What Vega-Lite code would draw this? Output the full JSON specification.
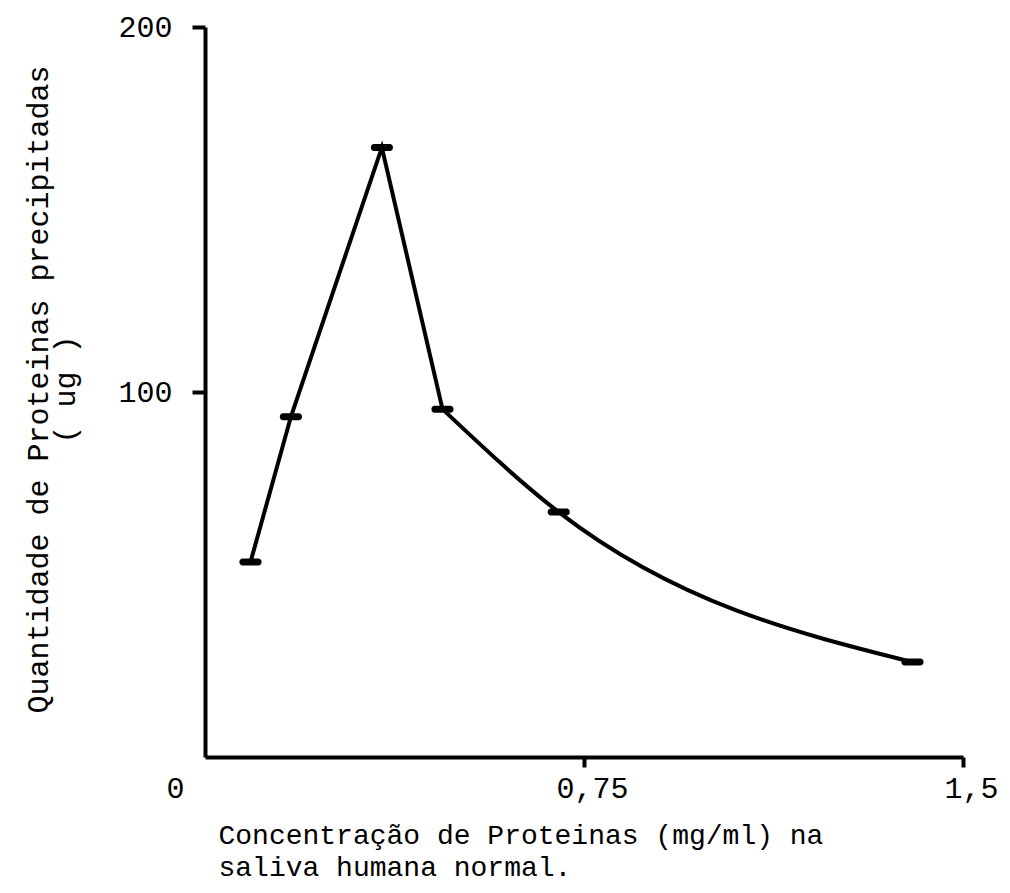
{
  "$schema": "https://vega.github.io/schema/vega-lite/v6.json",
  "width": 758,
  "height": 730,
  "autosize": {"type": "none"},
  "padding": {"left": 205, "top": 27, "right": 47, "bottom": 136},
  "background": "white",
  "data": {
    "values": [
      {"conc": 0.09, "prot": 53.4},
      {"conc": 0.17, "prot": 93.2},
      {"conc": 0.35, "prot": 167.0},
      {"conc": 0.47, "prot": 95.3},
      {"conc": 0.70, "prot": 67.1},
      {"conc": 1.40, "prot": 26.0}
    ]
  },
  "encoding": {
    "x": {
      "field": "conc",
      "type": "quantitative",
      "scale": {"domain": [0, 1.5], "nice": false, "zero": true},
      "axis": {
        "values": [0, 0.75, 1.5],
        "labelExpr": "datum.value === 0 ? '0' : replace(format(datum.value, '.2~f'), '.', ',')",
        "tickSize": 10,
        "tickOpacity": {"condition": {"test": "datum.value === 0", "value": 0}, "value": 1},
        "labelOffset": {"condition": {"test": "datum.value === 0", "value": -30}, "value": 8},
        "labelPadding": 6,
        "labelFlush": false,
        "labelOverlap": false,
        "labelBound": false,
        "title": ["Concentração de Proteinas (mg/ml) na", "saliva humana normal."],
        "titleX": 13,
        "titleY": 86,
        "titleAlign": "left",
        "titleAnchor": "start",
        "titleBaseline": "alphabetic",
        "titleFontSize": 28,
        "titleLineHeight": 32
      }
    },
    "y": {
      "field": "prot",
      "type": "quantitative",
      "scale": {"domain": [0, 200], "nice": false, "zero": true},
      "axis": {
        "values": [100, 200],
        "format": "d",
        "tickSize": 13,
        "labelPadding": 20,
        "labelOverlap": false,
        "labelFlush": false,
        "title": ["Quantidade de Proteinas precipitadas", "( ug )"],
        "titleX": -158,
        "titleY": 362,
        "titleAngle": -90,
        "titleAlign": "center",
        "titleBaseline": "alphabetic",
        "titleFontSize": 30,
        "titleLineHeight": 27
      }
    }
  },
  "layer": [
    {
      "transform": [{"filter": "datum.conc <= 0.47"}],
      "mark": {"type": "line", "color": "black", "strokeWidth": 4, "interpolate": "linear"}
    },
    {
      "transform": [{"filter": "datum.conc >= 0.47"}],
      "mark": {"type": "line", "color": "black", "strokeWidth": 4, "interpolate": "monotone"}
    },
    {
      "mark": {"type": "tick", "orient": "horizontal", "color": "black", "opacity": 1, "size": 22, "thickness": 7, "cornerRadius": 3}
    }
  ],
  "config": {
    "view": {"stroke": null},
    "axis": {
      "grid": false,
      "domainColor": "black",
      "domainWidth": 4,
      "tickColor": "black",
      "tickWidth": 4,
      "labelFont": "Liberation Mono",
      "labelFontSize": 30,
      "labelColor": "black",
      "titleFont": "Liberation Mono",
      "titleFontWeight": "normal",
      "titleColor": "black"
    }
  }
}
